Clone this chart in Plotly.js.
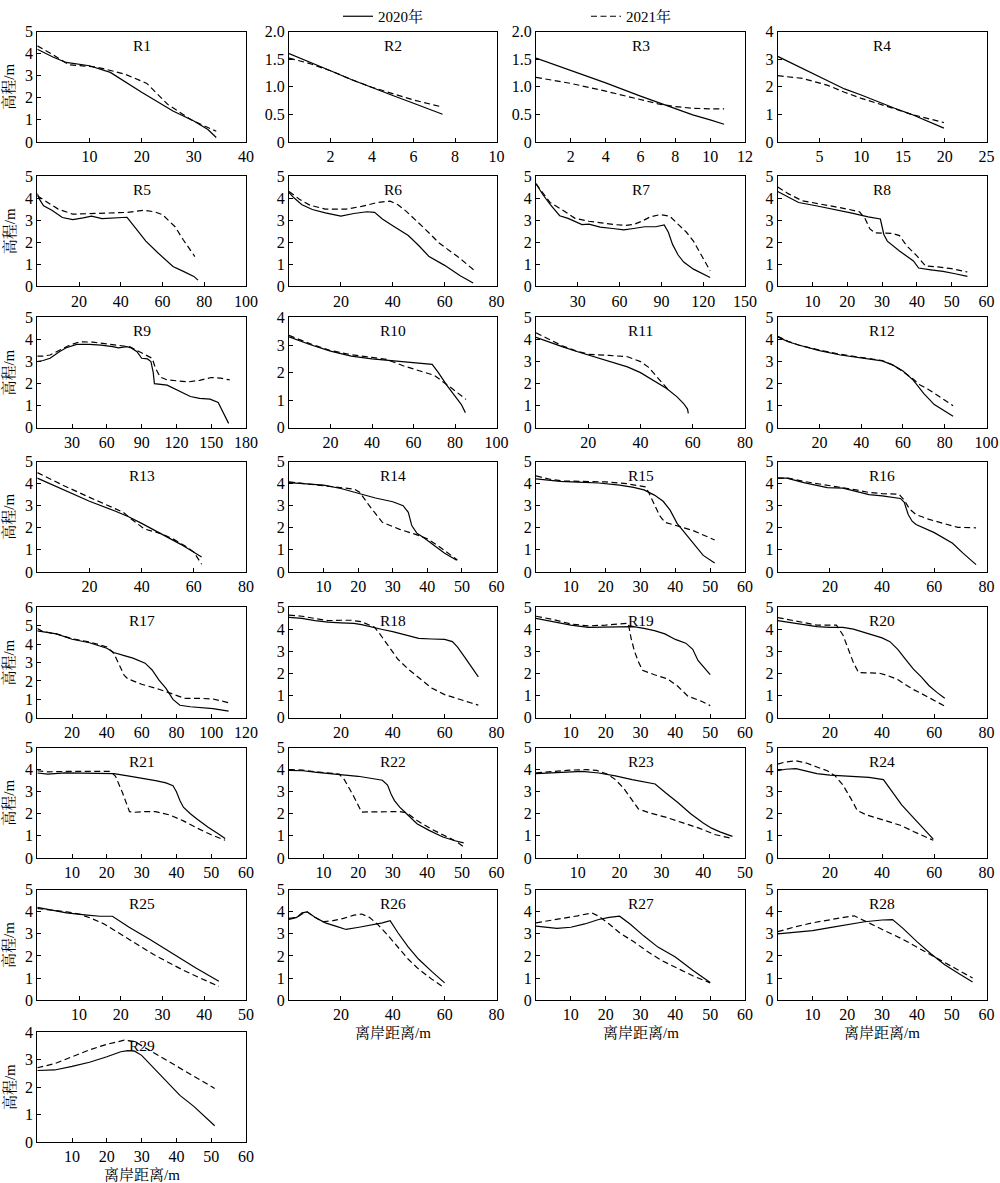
<!DOCTYPE html>
<html><head><meta charset="utf-8">
<script src="https://cdn.plot.ly/plotly-3.0.1.min.js"></script>
<style>html,body{margin:0;padding:0;background:#fff}</style>
</head><body>
<div id="chart" style="width:1000px;height:1183px"></div>
<script>
// ---------------- DATA ----------------
const profileNames = ['R1','R2','R3','R4','R5','R6','R7','R8','R9','R10','R11','R12','R13','R14','R15','R16','R17','R18','R19','R20','R21','R22','R23','R24','R25','R26','R27','R28','R29'];
const seriesNames = ['2020年','2021年'];
const xMax  = [40,10,12,25,100,80,150,60,180,100,80,100,80,60,60,80,120,80,60,80,60,60,50,80,50,80,60,60,60];
const xStep = [10,2,2,5,20,20,30,10,30,20,20,20,20,10,10,20,20,20,10,20,10,10,10,20,10,20,10,10,10];
const yMax  = [5,2,2,4,5,5,5,5,5,4,5,5,5,5,5,5,6,5,5,5,5,5,5,5,5,5,5,5,4];
const yStep = [1,0.5,0.5,1,1,1,1,1,1,1,1,1,1,1,1,1,1,1,1,1,1,1,1,1,1,1,1,1,1];

const R1_x2020=[0,3,5.5,10,14,20,26,30,32.7,34.3];
const R1_y2020=[4.2,3.85,3.6,3.45,3.15,2.25,1.4,0.95,0.56,0.2];
const R1_x2021=[0,3,6,11,13,17,21,25,29.5,32.7,34.3];
const R1_y2021=[4.35,3.95,3.5,3.4,3.3,3.05,2.65,1.7,1.0,0.65,0.48];

const R2_x2020=[0,1,2,3,4,5,6,7.4];
const R2_y2020=[1.6,1.45,1.29,1.13,0.98,0.84,0.7,0.5];
const R2_x2021=[0,1,2,3,4,5,6,7.3];
const R2_y2021=[1.52,1.42,1.29,1.13,0.99,0.87,0.76,0.64];

const R3_x2020=[0,2,4,6,7.5,8,9,10,10.8];
const R3_y2020=[1.52,1.3,1.07,0.83,0.66,0.6,0.49,0.4,0.32];
const R3_x2021=[0,2,4,6,7,8,9,10,10.8];
const R3_y2021=[1.17,1.06,0.92,0.77,0.69,0.64,0.61,0.6,0.6];

const R4_x2020=[0,2,4,6,8,10,12,14,16,18,19.9];
const R4_y2020=[3.1,2.8,2.5,2.2,1.92,1.7,1.45,1.22,1.0,0.75,0.5];
const R4_x2021=[0,3,6,8,10,12,14,16,18,19.9];
const R4_y2021=[2.4,2.3,2.05,1.8,1.58,1.4,1.2,1.0,0.85,0.7];

const R5_x2020=[0,1,3,7,12,17,22,26,31,37,43,47,52,58,65,70,75,77];
const R5_y2020=[4.2,3.95,3.65,3.45,3.12,3.02,3.1,3.18,3.07,3.1,3.13,2.65,2.05,1.5,0.9,0.68,0.45,0.28];
const R5_x2021=[0,4,10,17,25,35,43,51,56,60,66,70,75.5];
const R5_y2021=[4.1,3.85,3.5,3.27,3.3,3.35,3.35,3.45,3.38,3.25,2.7,2.1,1.35];

const R6_x2020=[0,2,5,9,14,20,25,30,33,36,40,46,50,54,60,66,71];
const R6_y2020=[4.25,4.0,3.7,3.48,3.33,3.18,3.3,3.38,3.35,3.05,2.75,2.3,1.85,1.35,0.95,0.48,0.15];
const R6_x2021=[0,4,8,14,22,28,34,39,42,45,52,58,65,71.2];
const R6_y2021=[4.3,3.95,3.68,3.5,3.5,3.62,3.8,3.86,3.7,3.42,2.65,1.95,1.35,0.75];

const R7_x2020=[0,5,10,17,23,33,38,46,55,63,70,78,86,92,95,98,102,106,113,119,125];
const R7_y2020=[4.65,4.15,3.72,3.2,3.08,2.8,2.82,2.68,2.62,2.56,2.62,2.7,2.7,2.78,2.45,1.9,1.42,1.1,0.78,0.6,0.4];
const R7_x2021=[0,5,10,18,28,38,46,56,64,70,76,82,89,96,103,108,113,119,125];
const R7_y2021=[4.65,4.2,3.8,3.5,3.08,2.95,2.88,2.8,2.76,2.8,2.95,3.15,3.25,3.18,2.75,2.45,2.05,1.4,0.7];

const R8_x2020=[0,3,6,11,16,21,26,28.5,29.5,30,30.5,31.5,35,39,40.5,44,47.5,51,54.5];
const R8_y2020=[4.3,4.05,3.8,3.65,3.5,3.33,3.15,3.08,3.05,2.7,2.35,2.05,1.6,1.15,0.83,0.75,0.68,0.57,0.45];
const R8_x2021=[0,3,7,12,16,20,23.5,25,26.5,28,33,35,37,40,42.5,46,50,54.5];
const R8_y2021=[4.5,4.2,3.88,3.75,3.62,3.5,3.38,3.1,2.6,2.42,2.4,2.3,1.85,1.38,0.92,0.88,0.8,0.65];

const R9_x2020=[0,5,11,19,25,34,45,55,65,70,77,81,86,90,95,98,100,101,112,123,132,140,149,156,160,165];
const R9_y2020=[3.0,3.05,3.15,3.45,3.63,3.78,3.78,3.75,3.68,3.62,3.68,3.62,3.45,3.15,3.12,3.0,2.5,2.0,1.93,1.63,1.42,1.33,1.3,1.15,0.75,0.2];
const R9_x2021=[0,5,11,20,28,37,48,60,72,80,86,93,99,102,106,112,120,130,140,150,158,166];
const R9_y2021=[3.25,3.25,3.3,3.55,3.75,3.9,3.88,3.8,3.72,3.67,3.5,3.3,3.15,2.7,2.3,2.17,2.13,2.08,2.15,2.28,2.25,2.17];

const R10_x2020=[0,10,20,30,40,50,60,69,72,76,80,83,85];
const R10_y2020=[3.3,3.02,2.78,2.6,2.5,2.43,2.35,2.3,2.0,1.55,1.15,0.85,0.55];
const R10_x2021=[0,10,20,30,40,47,55,62,70,76,81,85.3];
const R10_y2021=[3.35,3.05,2.8,2.65,2.55,2.48,2.25,2.08,1.9,1.57,1.27,1.03];

const R11_x2020=[0,5,10,15,20,25,30,35,40,45,50,54,56.5,58,58.3];
const R11_y2020=[4.1,3.88,3.68,3.48,3.3,3.12,2.95,2.76,2.5,2.15,1.78,1.4,1.1,0.85,0.65];
const R11_x2021=[0,5,10,15,20,28,35,40,43,46,50.4];
const R11_y2021=[4.3,4.0,3.72,3.5,3.33,3.28,3.22,3.0,2.75,2.35,1.75];

const R12_x2020=[0,5,10,20,30,40,50,55,60,65,70,75,80,84];
const R12_y2020=[4.12,3.9,3.75,3.5,3.3,3.18,3.03,2.85,2.57,2.15,1.55,1.05,0.75,0.52];
const R12_x2021=[0,5,10,20,30,40,50,55,60,65,68,72,76,80,84];
const R12_y2021=[4.15,3.92,3.75,3.52,3.33,3.2,3.05,2.85,2.55,2.2,1.95,1.75,1.5,1.25,1.0];

const R13_x2020=[0,10,20,30,35,40,47,55,63];
const R13_y2020=[4.25,3.72,3.2,2.75,2.5,2.2,1.75,1.25,0.68];
const R13_x2021=[0,10,20,30,33,36,41,47,52,57,60,63];
const R13_y2021=[4.5,3.92,3.38,2.88,2.7,2.4,1.95,1.75,1.5,1.15,0.9,0.35];

const R14_x2020=[0,5,10,15,20,25,30,33,34.5,35.5,37,39,42,45,48.5];
const R14_y2020=[4.05,4.0,3.93,3.78,3.55,3.35,3.18,3.0,2.7,2.1,1.75,1.55,1.2,0.85,0.53];
const R14_x2021=[0,5,10,15,19,20.5,23,27,32,37,40,43,46,48.7];
const R14_y2021=[4.08,4.0,3.9,3.82,3.75,3.6,3.05,2.25,1.93,1.68,1.5,1.2,0.85,0.54];

const R15_x2020=[0,3,7,12,18,24,28,31,34,36.5,38.5,40.5,43,45.5,48,51.3];
const R15_y2020=[4.22,4.18,4.1,4.07,4.03,3.93,3.83,3.72,3.48,3.2,2.8,2.2,1.7,1.2,0.75,0.4];
const R15_x2021=[0,4,8,14,20,26,31.5,32.5,34,35.5,37,40,45,51.3];
const R15_y2021=[4.35,4.2,4.12,4.1,4.08,4.0,3.85,3.55,3.05,2.55,2.25,2.1,1.88,1.45];

const R16_x2020=[0,3.5,10,19,25,30,35,40,45,47,48.5,50,51.5,53,60,67,71,76];
const R16_y2020=[4.25,4.25,4.05,3.82,3.8,3.65,3.5,3.45,3.38,3.33,3.15,2.6,2.3,2.15,1.78,1.3,0.85,0.33];
const R16_x2021=[0,4,10,20,30,35,40,46.5,48.5,50.5,53,58,64,69,76];
const R16_y2021=[4.25,4.25,4.1,3.92,3.72,3.6,3.55,3.52,3.25,2.85,2.6,2.38,2.2,2.02,2.0];

const R17_x2020=[0,5,11,20,30,40,44,50,55,62,66,70,74,78,82,88,95,101,110];
const R17_y2020=[4.72,4.65,4.56,4.27,4.08,3.78,3.55,3.38,3.24,2.97,2.6,2.05,1.6,1.0,0.68,0.6,0.55,0.5,0.36];
const R17_x2021=[0,3,11,20,30,40,44,47,50,52,60,70,80,85,95,101,110];
const R17_y2021=[4.85,4.7,4.56,4.3,4.12,3.85,3.5,2.9,2.3,2.12,1.82,1.55,1.2,1.05,1.05,1.02,0.82];

const R18_x2020=[0,5,10,15,20,25,28,32,36,40,45,50,55,60,63,65,68,73];
const R18_y2020=[4.55,4.5,4.4,4.33,4.3,4.28,4.22,4.1,4.0,3.9,3.75,3.6,3.57,3.55,3.45,3.2,2.7,1.85];
const R18_x2021=[0,5,10,15,20,24,28,30,33,35,38,42,46,50,55,60,65,70,73];
const R18_y2021=[4.65,4.6,4.5,4.4,4.42,4.42,4.35,4.25,4.1,3.8,3.3,2.65,2.2,1.82,1.35,1.05,0.85,0.68,0.57];

const R19_x2020=[0,5,10,15,20,25,28,31,34,37,40,43,45,46.5,48,50];
const R19_y2020=[4.5,4.35,4.2,4.1,4.1,4.12,4.13,4.05,3.95,3.8,3.55,3.38,3.1,2.6,2.3,1.95];
const R19_x2021=[0,5,10,15,20,24,26.5,27.3,28.3,29.5,30.6,34,37.8,40.7,43.6,47.5,50];
const R19_y2021=[4.6,4.45,4.25,4.16,4.2,4.25,4.28,3.6,3.0,2.5,2.15,1.95,1.76,1.43,0.98,0.75,0.55];

const R20_x2020=[0,5,10,15,20,25,29,33,37,40,43,46,49,52,55,58,61,64];
const R20_y2020=[4.4,4.3,4.2,4.13,4.1,4.1,4.02,3.88,3.72,3.62,3.45,3.1,2.65,2.2,1.85,1.45,1.15,0.88];
const R20_x2021=[0,5,10,15,20,22.5,25,27,29,31,35,39,42,46,49,52,55,58,61,64];
const R20_y2021=[4.54,4.42,4.3,4.2,4.2,4.2,3.75,3.1,2.5,2.05,2.05,2.02,1.92,1.73,1.5,1.28,1.1,0.9,0.72,0.53];

const R21_x2020=[0,3,8,13,18,22,26,30,34,37,39,40,41,42,44,46,49,52,54];
const R21_y2020=[3.85,3.8,3.85,3.85,3.85,3.82,3.72,3.62,3.5,3.4,3.27,3.0,2.6,2.3,2.0,1.75,1.4,1.1,0.88];
const R21_x2021=[0,3,8,13,18,21,22.5,24.5,26.5,28,31,34,38,42,46,50,54];
const R21_y2021=[3.95,3.9,3.92,3.92,3.92,3.92,3.7,2.95,2.1,2.07,2.1,2.1,1.95,1.68,1.35,1.05,0.8];

const R22_x2020=[0,4,8,12,16,20,24,27,28.5,29.5,30.5,32,34,37,40.5,44.5,48,50.5];
const R22_y2020=[3.97,3.95,3.88,3.82,3.78,3.7,3.6,3.52,3.3,2.9,2.6,2.3,2.0,1.55,1.25,0.95,0.78,0.68];
const R22_x2021=[0,4,8,12,14.5,16,18.5,21,24,28,32,34,37,41,45,48,50.5];
const R22_y2021=[4.0,3.98,3.9,3.85,3.8,3.55,2.85,2.08,2.08,2.1,2.1,2.05,1.7,1.32,1.02,0.78,0.5];

const R23_x2020=[0,3,7,11,15,19,23,28.5,31,34,37,40,42,44,47];
const R23_y2020=[3.82,3.85,3.9,3.92,3.85,3.72,3.55,3.35,2.95,2.5,2.0,1.58,1.35,1.18,0.98];
const R23_x2021=[0,4,8,12,14.5,17,19,21,23,24.5,27,31,35,39,43,47];
const R23_y2021=[3.85,3.92,3.98,4.0,3.97,3.8,3.55,3.15,2.6,2.22,2.05,1.85,1.6,1.35,1.05,0.88];

const R24_x2020=[0,3,7,11,15,20,25,30,35,40.5,44,47.5,51,55,59.6];
const R24_y2020=[3.95,4.02,4.05,3.92,3.82,3.75,3.72,3.7,3.65,3.55,3.0,2.4,1.95,1.45,0.85];
const R24_x2021=[0,3,7,11,15,19,22,25,28,30.5,34,40,47,52,56,59.6];
const R24_y2021=[4.25,4.35,4.4,4.3,4.12,3.95,3.72,3.3,2.7,2.15,1.95,1.72,1.48,1.2,1.0,0.8];

const R25_x2020=[0,3,7,12,15,18,22,27,33,38,43.5];
const R25_y2020=[4.2,4.1,3.95,3.85,3.8,3.8,3.3,2.75,2.05,1.45,0.85];
const R25_x2021=[0,3,7,10,13,16,19,22,25,28,31,35,39,43.5];
const R25_y2021=[4.15,4.1,4.0,3.9,3.7,3.45,3.1,2.75,2.4,2.05,1.75,1.35,1.0,0.62];

const R26_x2020=[0,3,5,7,10,14,18,22,27,32,36,39,42,46,50,55,60];
const R26_y2020=[3.65,3.75,3.95,4.0,3.75,3.5,3.35,3.2,3.3,3.4,3.5,3.6,3.05,2.4,1.85,1.3,0.78];
const R26_x2021=[0,3,5,7,10,13,17,21,25,28,31,34,38,42,46,50,55,60];
const R26_y2021=[3.7,3.75,3.9,4.0,3.75,3.55,3.6,3.7,3.85,3.9,3.75,3.45,2.95,2.4,1.85,1.4,0.95,0.55];

const R27_x2020=[0,3,6,10,14,18,21,24,27,31,35,40,45,50];
const R27_y2020=[3.35,3.3,3.25,3.3,3.45,3.65,3.75,3.8,3.45,2.9,2.4,1.95,1.35,0.8];
const R27_x2021=[0,4,8,12,16,18,21,24,28,32,36,40,45,50];
const R27_y2021=[3.5,3.6,3.7,3.82,3.95,3.8,3.45,3.05,2.65,2.2,1.8,1.5,1.1,0.78];

const R28_x2020=[0,5,10,15,20,25,30,33,36,40,44,48,52,56];
const R28_y2020=[3.0,3.08,3.15,3.28,3.42,3.55,3.63,3.65,3.25,2.65,2.1,1.6,1.2,0.82];
const R28_x2021=[0,5,10,15,19,22,25,28,32,36,40,44,48,52,56];
const R28_y2021=[3.1,3.32,3.5,3.65,3.75,3.82,3.6,3.35,3.05,2.75,2.4,2.05,1.7,1.35,1.0];

const R29_x2020=[0,5,10,15,20,24,26,28,30,33,37,41,45,48,51];
const R29_y2020=[2.6,2.62,2.75,2.9,3.1,3.28,3.32,3.3,3.15,2.75,2.2,1.7,1.3,0.95,0.6];
const R29_x2021=[0,5,10,15,20,25,28,30,33,38,42,46,51];
const R29_y2021=[2.7,2.85,3.1,3.35,3.55,3.7,3.65,3.5,3.3,2.9,2.6,2.3,1.95];

const dist2020=[R1_x2020,R2_x2020,R3_x2020,R4_x2020,R5_x2020,R6_x2020,R7_x2020,R8_x2020,R9_x2020,R10_x2020,R11_x2020,R12_x2020,R13_x2020,R14_x2020,R15_x2020,R16_x2020,R17_x2020,R18_x2020,R19_x2020,R20_x2020,R21_x2020,R22_x2020,R23_x2020,R24_x2020,R25_x2020,R26_x2020,R27_x2020,R28_x2020,R29_x2020];
const elev2020=[R1_y2020,R2_y2020,R3_y2020,R4_y2020,R5_y2020,R6_y2020,R7_y2020,R8_y2020,R9_y2020,R10_y2020,R11_y2020,R12_y2020,R13_y2020,R14_y2020,R15_y2020,R16_y2020,R17_y2020,R18_y2020,R19_y2020,R20_y2020,R21_y2020,R22_y2020,R23_y2020,R24_y2020,R25_y2020,R26_y2020,R27_y2020,R28_y2020,R29_y2020];
const dist2021=[R1_x2021,R2_x2021,R3_x2021,R4_x2021,R5_x2021,R6_x2021,R7_x2021,R8_x2021,R9_x2021,R10_x2021,R11_x2021,R12_x2021,R13_x2021,R14_x2021,R15_x2021,R16_x2021,R17_x2021,R18_x2021,R19_x2021,R20_x2021,R21_x2021,R22_x2021,R23_x2021,R24_x2021,R25_x2021,R26_x2021,R27_x2021,R28_x2021,R29_x2021];
const elev2021=[R1_y2021,R2_y2021,R3_y2021,R4_y2021,R5_y2021,R6_y2021,R7_y2021,R8_y2021,R9_y2021,R10_y2021,R11_y2021,R12_y2021,R13_y2021,R14_y2021,R15_y2021,R16_y2021,R17_y2021,R18_y2021,R19_y2021,R20_y2021,R21_y2021,R22_y2021,R23_y2021,R24_y2021,R25_y2021,R26_y2021,R27_y2021,R28_y2021,R29_y2021];

// ---------------- LAYOUT ----------------
const W=1000, H=1183;
const FONT="'Liberation Serif','Times New Roman','Noto Serif CJK SC','Noto Sans CJK SC',serif";
const colL=[37.3,289,536,777.7], colR=[246,496.5,745,986.5];
const rowTop=[24.7,170,312.3,457.3,604,745,888,1031], rowH=111;

const traces=[];
const layout={
  width:W,height:H,margin:{l:0,r:0,t:0,b:0},
  paper_bgcolor:'#fff',plot_bgcolor:'#fff',
  font:{family:FONT,size:15,color:'#000'},
  showlegend:true,
  legend:{x:0.338,y:1-9.5/H,xanchor:'left',yanchor:'middle',orientation:'h',bgcolor:'rgba(0,0,0,0)',font:{family:FONT,size:15,color:'#000'}},
  legend2:{x:0.586,y:1-9.5/H,xanchor:'left',yanchor:'middle',orientation:'h',bgcolor:'rgba(0,0,0,0)',font:{family:FONT,size:15,color:'#000'}},
  annotations:[]
};

profileNames.forEach((name,i)=>{
  const r=Math.floor(i/4), c=i%4, n=i+1;
  const xid='x'+(n===1?'':n), yid='y'+(n===1?'':n);
  traces.push({x:dist2020[i],y:elev2020[i],xaxis:xid,yaxis:yid,mode:'lines',name:seriesNames[0],
    line:{color:'#000',width:1.2},showlegend:i===0,legend:'legend',legendgroup:'a',hoverinfo:'skip'});
  traces.push({x:dist2021[i],y:elev2021[i],xaxis:xid,yaxis:yid,mode:'lines',name:seriesNames[1],
    line:{color:'#000',width:1.2,dash:'6px,3.5px'},showlegend:i===0,legend:'legend2',legendgroup:'b',hoverinfo:'skip'});
  const xt=[]; for(let v=xStep[i]; v<=xMax[i]+1e-9; v+=xStep[i]) xt.push(+v.toFixed(3));
  const yt=[], ytt=[]; for(let v=0; v<=yMax[i]+1e-9; v+=yStep[i]){ yt.push(+v.toFixed(3)); ytt.push(v===0?'0':(yStep[i]<1?v.toFixed(1):String(Math.round(v)))); }
  const common={showline:true,mirror:true,linecolor:'#000',linewidth:1,ticks:'inside',ticklen:4,tickcolor:'#000',tickwidth:1,
    showgrid:false,zeroline:false,fixedrange:true,tickfont:{family:FONT,size:16,color:'#000'}};
  layout['xaxis'+(n===1?'':n)]=Object.assign({},common,{domain:[colL[c]/W,colR[c]/W],anchor:yid,range:[0,xMax[i]],tickmode:'array',tickvals:xt,ticktext:xt.map(String)});
  layout['yaxis'+(n===1?'':n)]=Object.assign({},common,{domain:[1-(rowTop[r]+rowH)/H,1-rowTop[r]/H],anchor:xid,range:[0,yMax[i]],tickmode:'array',tickvals:yt,ticktext:ytt});
  layout.annotations.push({text:name,xref:'paper',yref:'paper',x:(colL[c]+colR[c])/2/W,y:1-(rowTop[r]+13.6)/H,
    xanchor:'center',yanchor:'middle',showarrow:false,font:{family:FONT,size:15.5,color:'#000'}});
  if(c===0){
    layout.annotations.push({text:'高程/m',xref:'paper',yref:'paper',x:9/W,y:1-(rowTop[r]+rowH/2)/H,textangle:-90,
      xanchor:'center',yanchor:'middle',showarrow:false,font:{family:FONT,size:15,color:'#000'}});
  }
});
// x-axis titles under bottom panels
[[25,1],[26,2],[27,3],[28,0]].forEach(([i,c])=>{
  const r=Math.floor(i/4);
  layout.annotations.push({text:'离岸距离/m',xref:'paper',yref:'paper',x:(colL[c]+colR[c])/2/W,y:1-(rowTop[r]+rowH+33)/H,
    xanchor:'center',yanchor:'middle',showarrow:false,font:{family:FONT,size:15,color:'#000'}});
});

Plotly.newPlot('chart',traces,layout,{staticPlot:true,displayModeBar:false});
</script>
</body></html>
